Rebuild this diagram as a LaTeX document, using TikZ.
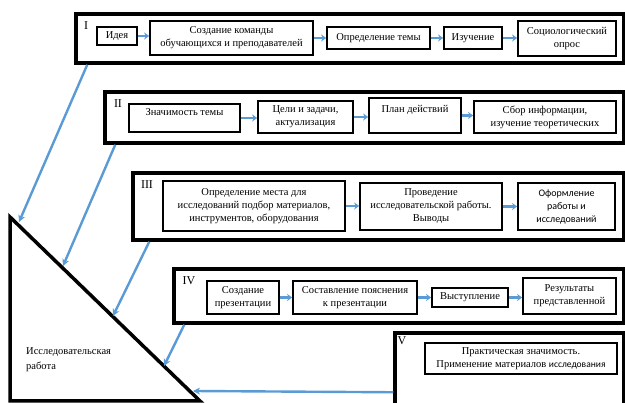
\documentclass[tikz,border=0pt]{standalone}
\usepackage{fontspec}
\setmainfont{Liberation Serif}
\newfontfamily\sansf{Carlito}
\usetikzlibrary{arrows.meta}
\definecolor{arrowblue}{RGB}{91,155,213}
\tikzset{
  box/.style={draw, line width=1.7pt, align=center, inner sep=1pt, font=\fontsize{10.5}{13}\selectfont},
  frame/.style={draw, line width=3.5pt, inner sep=0pt},
  roman/.style={inner sep=0pt, font=\fontsize{12}{13}\selectfont},
  link/.style={draw=arrowblue, line width=2.6pt, -{Stealth[length=5pt,width=7pt]}},
  feed/.style={draw=arrowblue, line width=2.4pt, -{Stealth[length=7pt,width=7pt]}}
}

\begin{document}
\begin{tikzpicture}[x=1pt,y=-1pt]
	\clip (0,0) rectangle (625,403);

	% frames
	\node [frame, minimum width=548pt, minimum height=49pt] (frameI) at (350,38.5) {};
	\node [frame, minimum width=519pt, minimum height=51pt] (frameII) at (364.5,117.5) {};
	\node [frame, minimum width=491pt, minimum height=67pt] (frameIII) at (378.5,206.5) {};
	\node [frame, minimum width=450pt, minimum height=54pt] (frameIV) at (399,296) {};
	\node [frame, minimum width=229pt, minimum height=87pt] (frameV) at (509.5,376.5) {};
	\node [roman] (numI) at (86,26) {I};
	\node [roman] (numII) at (118,104) {II};
	\node [roman] (numIII) at (147,185) {III};
	\node [roman] (numIV) at (189,281) {IV};
	\node [roman] (numV) at (402,341) {V};

	% stage I
	\node [box, minimum width=40pt, minimum height=18pt] (idea) at (117,36) {Идея};
	\node [box, minimum width=163pt, minimum height=34pt] (team) at (231.5,38) {Создание команды\\обучающихся и преподавателей};
	\node [box, minimum width=103pt, minimum height=22pt] (topic) at (378.5,38) {Определение темы};
	\node [box, minimum width=58pt, minimum height=22pt] (study) at (473,38) {Изучение};
	\node [box, minimum width=98pt, minimum height=35pt] (survey) at (567,38.5) {Социологический\\опрос};
	\draw [link] (idea.east) -- (idea.east -| team.west);
	\draw [link] (team.east) -- (team.east -| topic.west);
	\draw [link] (topic.east) -- (study.west);
	\draw [link] (study.east) -- (study.east -| survey.west);

	% stage II
	\node [box, minimum width=111pt, minimum height=28pt] (signif) at (184.5,118) {Значимость темы\\[-2pt]\mbox{}};
	\node [box, minimum width=95pt, minimum height=32pt] (goals) at (305.5,117) {Цели и задачи,\\актуализация};
	\node [box, minimum width=92pt, minimum height=35pt] (plan) at (415,115.5) {План действий\\\mbox{}};
	\node [box, minimum width=142pt, minimum height=32pt] (collect) at (545,117) {Сбор информации,\\изучение теоретических};
	\draw [link] (signif.east) -- (signif.east -| goals.west);
	\draw [link] (goals.east) -- (goals.east -| plan.west);
	\draw [link] (plan.east) -- (plan.east -| collect.west);

	% stage III
	\node [box, minimum width=182pt, minimum height=50pt] (place) at (254,206) {Определение места для\\исследований подбор материалов,\\инструментов, оборудования};
	\node [box, minimum width=142pt, minimum height=47pt] (conduct) at (431,206.5) {Проведение\\исследовательской работы.\\Выводы};
	\node [box, minimum width=97pt, minimum height=47pt, font=\sansf\fontsize{10}{13}\selectfont] (design) at (566.5,206.5) {Оформление\\работы и\\исследований};
	\draw [link] (place.east) -- (place.east -| conduct.west);
	\draw [link] (conduct.east) -- (conduct.east -| design.west);

	% stage IV
	\node [box, minimum width=72pt, minimum height=33pt] (make) at (243,297.5) {Создание\\презентации};
	\node [box, minimum width=124pt, minimum height=33pt] (explain) at (355,297.5) {Составление пояснения\\к презентации};
	\node [box, minimum width=76pt, minimum height=19pt] (speech) at (470,297.5) {Выступление};
	\node [box, minimum width=93pt, minimum height=36pt] (results) at (569.5,296) {Результаты\\представленной};
	\draw [link] (make.east) -- (make.east -| explain.west);
	\draw [link] (explain.east) -- (explain.east -| speech.west);
	\draw [link] (speech.east) -- (speech.east -| results.west);

	% stage V
	\node [box, minimum width=192pt, minimum height=31pt] (practice) at (521,358.5) {Практическая значимость.\\Применение материалов {\sansf\fontsize{9.5}{13}\selectfont исследования}};

	% research triangle
	\coordinate (tA) at (10,217);
	\coordinate (tB) at (10,401);
	\coordinate (tC) at (200,401);
	\draw [line width=3.5pt] (tA) -- (tB) -- (tC) -- cycle;
	\node [anchor=west, align=left, inner sep=0pt, font=\fontsize{10.5}{15}\selectfont] (work) at (26,359.5) {Исследовательская\\работа};

	\coordinate (h1) at (19,222);
	\coordinate (h2) at (63,266);
	\coordinate (h3) at (113,316);
	\coordinate (h4) at (164,366);
	\coordinate (h5) at (193,391);
	\draw [feed] ([xshift=13pt]frameI.south west) -- (h1);
	\draw [feed] ([xshift=12pt]frameII.south west) -- (h2);
	\draw [feed] ([xshift=18pt]frameIII.south west) -- (h3);
	\draw [feed] ([xshift=12pt]frameIV.south west) -- (h4);
	\draw [feed] ([yshift=-61pt]frameV.north west) -- (h5);
\end{tikzpicture}
\end{document}
